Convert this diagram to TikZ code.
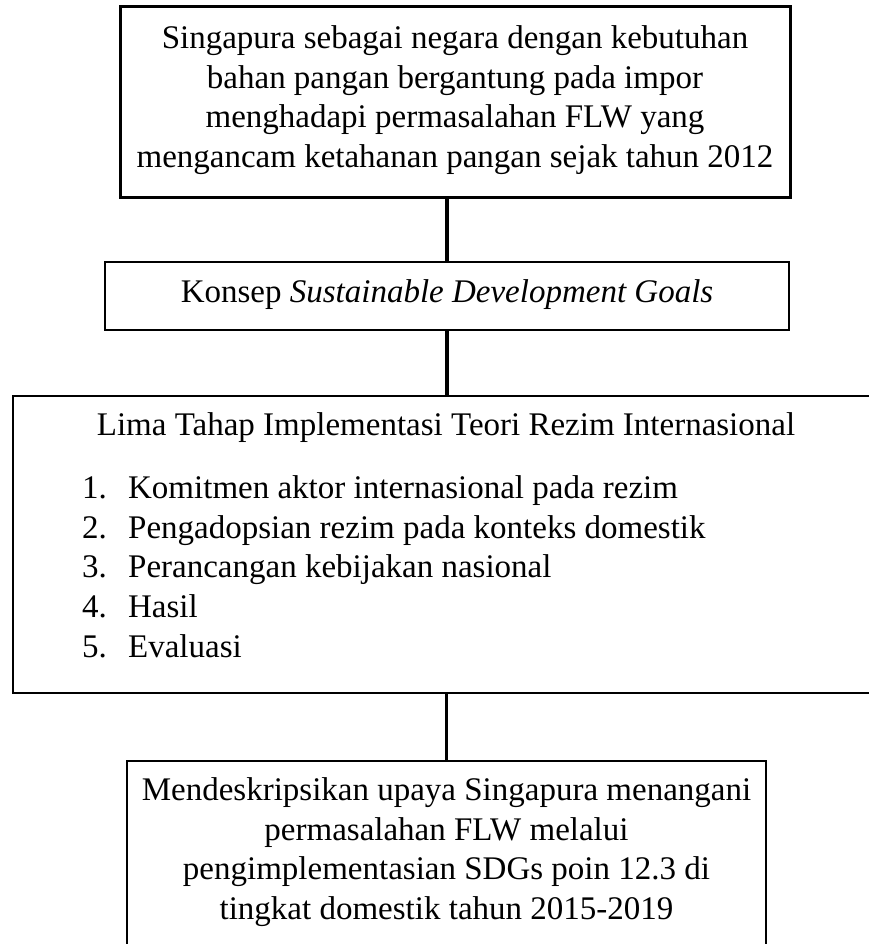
\documentclass[tikz,border=0pt]{standalone}
\usepackage{fontspec}
\setmainfont{Liberation Serif}
\begin{document}
\begin{tikzpicture}[x=1pt,y=-1pt,
  thickbox/.style={draw=black,line width=3pt,inner sep=0pt},
  thinbox/.style={draw=black,line width=1.4pt,inner sep=0pt},
  conn/.style={draw=black,line width=3.4pt},
  txt/.style={inner sep=0pt,font=\fontsize{33}{39.6}\selectfont}]
\useasboundingbox (0,0) rectangle (869,944);
% boxes
\node[thickbox,minimum width=670pt,minimum height=190pt] (b1) at (455,102) {};
\node[thinbox,minimum width=684pt,minimum height=68pt] (b2) at (447,296) {};
\node[thinbox,minimum width=868pt,minimum height=297pt] (b3) at (447,544.5) {};
\node[thinbox,minimum width=639pt,minimum height=188pt] (b4) at (446.5,855) {};
% texts
\node[txt,align=center,anchor=north] (t1) at (455,25.6)
  {Singapura sebagai negara dengan kebutuhan\\bahan pangan bergantung pada impor\\menghadapi permasalahan FLW yang\\mengancam ketahanan pangan sejak tahun 2012};
\node[txt,anchor=base] (t2) at (447,302) {Konsep \textit{Sustainable Development Goals}};
\node[txt,anchor=base] (t3) at (446,435) {Lima Tahap Implementasi Teori Rezim Internasional};
\node[txt,align=left,anchor=north west] (t3l) at (82,475.6)
  {\makebox[46pt][l]{1.}Komitmen aktor internasional pada rezim\\
   \makebox[46pt][l]{2.}Pengadopsian rezim pada konteks domestik\\
   \makebox[46pt][l]{3.}Perancangan kebijakan nasional\\
   \makebox[46pt][l]{4.}Hasil\\
   \makebox[46pt][l]{5.}Evaluasi};
\node[txt,align=center,anchor=north] (t4) at (446.5,777.6)
  {Mendeskripsikan upaya Singapura menangani\\permasalahan FLW melalui\\pengimplementasian SDGs poin 12.3 di\\tingkat domestik tahun 2015-2019};
% connectors
\draw[conn] (b2.north |- b1.south) -- (b2.north);
\draw[conn] (b2.south) -- (b3.north);
\draw[conn] (b4.north |- b3.south) -- (b4.north);
\end{tikzpicture}
\end{document}
